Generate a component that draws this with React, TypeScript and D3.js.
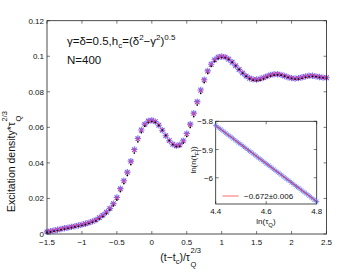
import React from "react";
import * as d3 from "d3";

const xs = d3.range(81).map((i) => -1.5 + i * 0.05);
const yBlue = [
  0.0012, 0.0016, 0.002, 0.0024, 0.0028, 0.0032, 0.0036, 0.004, 0.0044, 0.0048,
  0.0053, 0.0058, 0.0064, 0.0071, 0.0079, 0.0092, 0.0106, 0.0123, 0.0144, 0.0171,
  0.0205, 0.0255, 0.03, 0.0348, 0.041, 0.0475, 0.0537, 0.0585, 0.0618, 0.0636,
  0.064, 0.0632, 0.0612, 0.0584, 0.0553, 0.0525, 0.0505, 0.0496, 0.0502, 0.0525,
  0.0565, 0.0618, 0.068, 0.0745, 0.081, 0.0868, 0.0918, 0.0955, 0.098, 0.0995,
  0.0999, 0.0995, 0.0983, 0.0966, 0.0946, 0.0925, 0.0905, 0.0888, 0.0876, 0.087,
  0.0869, 0.0873, 0.088, 0.0888, 0.0895, 0.0899, 0.0899, 0.0895, 0.0889, 0.0882,
  0.0877, 0.0875, 0.0877, 0.0882, 0.0887, 0.089, 0.089, 0.0887, 0.0883, 0.088, 0.0879,
];
const yRed = [
  0.0012, 0.0016, 0.002, 0.0024, 0.0028, 0.0032, 0.0036, 0.004, 0.0044, 0.0048,
  0.0053, 0.0058, 0.0064, 0.0071, 0.0079, 0.0091, 0.0105, 0.0122, 0.0143, 0.017,
  0.0203, 0.0252, 0.0297, 0.0345, 0.0407, 0.0472, 0.0534, 0.0583, 0.0616, 0.0634,
  0.0639, 0.0632, 0.0613, 0.0585, 0.0555, 0.0526, 0.0506, 0.0496, 0.05, 0.0522,
  0.0561, 0.0614, 0.0676, 0.0741, 0.0806, 0.0865, 0.0915, 0.0953, 0.0978, 0.0994,
  0.0999, 0.0996, 0.0985, 0.0968, 0.0948, 0.0927, 0.0907, 0.089, 0.0877, 0.087,
  0.0868, 0.0872, 0.0879, 0.0887, 0.0894, 0.0899, 0.09, 0.0896, 0.089, 0.0883,
  0.0878, 0.0875, 0.0876, 0.0881, 0.0886, 0.0889, 0.089, 0.0888, 0.0884, 0.0881, 0.0879,
];
const yBlack = [
  0.0011, 0.0015, 0.0019, 0.0023, 0.0027, 0.0031, 0.0035, 0.0039, 0.0043, 0.0047,
  0.0051, 0.0056, 0.0062, 0.0069, 0.0077, 0.0088, 0.0101, 0.0118, 0.0138, 0.0163,
  0.0195, 0.0242, 0.0287, 0.0333, 0.0394, 0.0459, 0.0522, 0.0574, 0.061, 0.063,
  0.0636, 0.0631, 0.0614, 0.0588, 0.0558, 0.0529, 0.0507, 0.0495, 0.0496, 0.0515,
  0.0552, 0.0603, 0.0664, 0.0729, 0.0795, 0.0855, 0.0907, 0.0947, 0.0974, 0.099,
  0.0996, 0.0995, 0.0986, 0.097, 0.095, 0.0929, 0.0909, 0.0891, 0.0877, 0.0869,
  0.0866, 0.0869, 0.0876, 0.0884, 0.0892, 0.0897, 0.0899, 0.0897, 0.0891, 0.0885,
  0.0879, 0.0875, 0.0875, 0.0879, 0.0884, 0.0888, 0.089, 0.0889, 0.0885, 0.0882, 0.0879,
];
const xTicks = [-1.5, -1, -0.5, 0, 0.5, 1, 1.5, 2, 2.5];
const yTicks = [0, 0.02, 0.04, 0.06, 0.08, 0.1, 0.12];

const lnTau = d3.range(41).map((i) => 4.4 + i * 0.01);
const lnN = [
  -5.815, -5.822, -5.828, -5.835, -5.842, -5.849, -5.855, -5.862, -5.869, -5.876,
  -5.882, -5.889, -5.896, -5.903, -5.909, -5.916, -5.923, -5.93, -5.936, -5.943,
  -5.95, -5.956, -5.963, -5.97, -5.977, -5.983, -5.99, -5.997, -6.004, -6.01,
  -6.017, -6.024, -6.031, -6.037, -6.044, -6.051, -6.057, -6.064, -6.071, -6.078, -6.084,
];
const fitSlope = -0.672;
const fitIntercept = -2.8582;
const insetXTicks = [4.4, 4.6, 4.8];
const insetYTicks = [-5.8, -5.9, -6];
const fitLabel = "\u22120.672\u00b10.006";

const W = 360;
const H = 271;
const FONT = "'Liberation Sans', Arial, Helvetica, sans-serif";

function fmt(v: number) {
  return String(v).replace("-", "\u2212");
}

function asterisk(s: number) {
  const d = s * 0.72;
  return `M${-s},0L${s},0M0,${-s}L0,${s}M${-d},${-d}L${d},${d}M${-d},${d}L${d},${-d}`;
}
function cross(s: number) {
  return `M${-s},${-s}L${s},${s}M${-s},${s}L${s},${-s}`;
}

export default function App() {
  const x = d3.scaleLinear().domain([-1.5, 2.5]).range([47, 326.5]);
  const y = d3.scaleLinear().domain([0, 0.12]).range([234, 20.7]);

  const ix = d3.scaleLinear().domain([4.4, 4.8]).range([215.7, 316.7]);
  const iy = d3.scaleLinear().domain([-6.093, -5.8]).range([204, 121.3]);

  const axisColor = "#222";
  const tick = 3;

  return (
    <svg width={W} height={H} style={{ position: "absolute", left: 0, top: 0, background: "#fff" }} fontFamily={FONT}>
      <rect x={0} y={0} width={W} height={H} fill="#fff" />
      {/* main markers */}
      <g>
        {xs.map((xv, i) => (
          <path key={"b" + i} d={asterisk(3.2)} transform={`translate(${x(xv)},${y(yBlue[i])})`} stroke="#6464ff" strokeWidth={1.1} fill="none" opacity={0.9} />
        ))}
        {xs.map((xv, i) => (
          <path key={"r" + i} d={cross(2)} transform={`translate(${x(xv)},${y(yRed[i])})`} stroke="#ff2a66" strokeWidth={1} fill="none" opacity={0.85} />
        ))}
        {xs.map((xv, i) => (
          <circle key={"k" + i} cx={x(xv)} cy={y(yBlack[i]) + 0.6} r={0.85} fill="#000" />
        ))}
      </g>
      {/* main frame */}
      <rect x={x(-1.5)} y={y(0.12)} width={x(2.5) - x(-1.5)} height={y(0) - y(0.12)} fill="none" stroke={axisColor} strokeWidth={0.8} />
      {xTicks.map((t) => (
        <g key={"xt" + t}>
          <line x1={x(t)} x2={x(t)} y1={y(0)} y2={y(0) - tick} stroke={axisColor} strokeWidth={0.6} />
          <line x1={x(t)} x2={x(t)} y1={y(0.12)} y2={y(0.12) + tick} stroke={axisColor} strokeWidth={0.6} />
          <text x={x(t)} y={245} fontSize={8} textAnchor="middle" fill="#111">{fmt(t)}</text>
        </g>
      ))}
      {yTicks.map((t) => (
        <g key={"yt" + t}>
          <line x1={x(-1.5)} x2={x(-1.5) + tick} y1={y(t)} y2={y(t)} stroke={axisColor} strokeWidth={0.6} />
          <line x1={x(2.5)} x2={x(2.5) - tick} y1={y(t)} y2={y(t)} stroke={axisColor} strokeWidth={0.6} />
          <text x={44} y={y(t) + 3} fontSize={8} textAnchor="end" fill="#111">{String(t)}</text>
        </g>
      ))}
      {/* x axis label */}
      <text x={190} y={261} fontSize={10.5} textAnchor="end" fill="#111">
        (t{"\u2212"}t<tspan fontSize={7.5} dy={3}>c</tspan><tspan dy={-3}>)/{"\u03c4"}</tspan>
      </text>
      <text x={190.5} y={253} fontSize={7.5} fill="#111">2/3</text>
      <text x={190.5} y={267} fontSize={7.5} fill="#111">Q</text>
      {/* y axis label */}
      <g transform="translate(15,128) rotate(-90)">
        <text x={6} y={0} fontSize={10.5} textAnchor="end" fill="#111">Excitation density*{"\u03c4"}</text>
        <text x={6.5} y={-8} fontSize={7.5} fill="#111">2/3</text>
        <text x={6.5} y={6} fontSize={7.5} fill="#111">Q</text>
      </g>
      {/* annotations */}
      <text x={67} y={45} fontSize={11.5} fill="#111">
        {"\u03b3=\u03b4=0.5,h"}<tspan fontSize={8} dy={3}>c</tspan>
        <tspan dy={-3}>{"=(\u03b4"}</tspan><tspan fontSize={8} dy={-5}>2</tspan>
        <tspan dy={5}>{"\u2212\u03b3"}</tspan><tspan fontSize={8} dy={-5}>2</tspan>
        <tspan dy={5}>)</tspan><tspan fontSize={8} dy={-5}>0.5</tspan>
      </text>
      <text x={67} y={64} fontSize={11.5} fill="#111">N=400</text>
      {/* inset */}
      <rect x={ix(4.4)} y={iy(-5.8)} width={ix(4.8) - ix(4.4)} height={iy(-6.093) - iy(-5.8)} fill="#fff" stroke={axisColor} strokeWidth={0.8} />
      <g>
        {lnTau.map((tv, i) => (
          <path key={"ib" + i} d={asterisk(2.6)} transform={`translate(${ix(tv)},${iy(lnN[i])})`} stroke="#6a80ff" strokeWidth={1} fill="none" opacity={0.85} />
        ))}
        <line x1={ix(4.4)} y1={iy(fitSlope * 4.4 + fitIntercept)} x2={ix(4.8)} y2={iy(fitSlope * 4.8 + fitIntercept)} stroke="#ff2a2a" strokeWidth={0.9} />
      </g>
      {insetXTicks.map((t) => (
        <g key={"ixt" + t}>
          <line x1={ix(t)} x2={ix(t)} y1={iy(-6.093)} y2={iy(-6.093) - tick} stroke={axisColor} strokeWidth={0.6} />
          <line x1={ix(t)} x2={ix(t)} y1={iy(-5.8)} y2={iy(-5.8) + tick} stroke={axisColor} strokeWidth={0.6} />
          <text x={ix(t)} y={214} fontSize={8} textAnchor="middle" fill="#111">{String(t)}</text>
        </g>
      ))}
      {insetYTicks.map((t) => (
        <g key={"iyt" + t}>
          <line x1={ix(4.4)} x2={ix(4.4) + tick} y1={iy(t)} y2={iy(t)} stroke={axisColor} strokeWidth={0.6} />
          <line x1={ix(4.8)} x2={ix(4.8) - tick} y1={iy(t)} y2={iy(t)} stroke={axisColor} strokeWidth={0.6} />
          <text x={213} y={iy(t) + 3} fontSize={8} textAnchor="end" fill="#111">{fmt(t)}</text>
        </g>
      ))}
      <text x={266} y={224} fontSize={8} textAnchor="middle" fill="#111">
        ln({"\u03c4"}<tspan fontSize={6} dy={2.5}>Q</tspan><tspan dy={-2.5}>)</tspan>
      </text>
      <text transform="translate(196,160) rotate(-90)" fontSize={8} textAnchor="middle" fill="#111">
        ln(n(t<tspan fontSize={6} dy={2.5}>F</tspan><tspan dy={-2.5}>))</tspan>
      </text>
      <line x1={222.5} x2={238.5} y1={196} y2={196} stroke="#ff6a6a" strokeWidth={1} />
      <text x={244} y={199} fontSize={8} fill="#111">{fitLabel}</text>
    </svg>
  );
}
